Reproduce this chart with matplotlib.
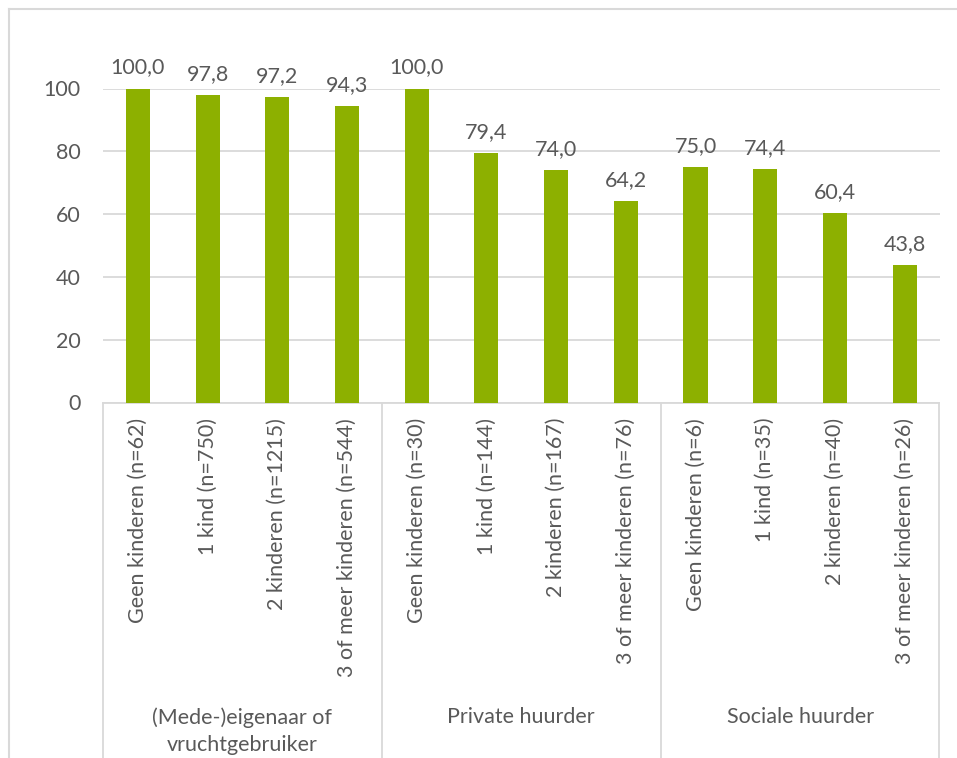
import matplotlib.pyplot as plt
import matplotlib.transforms as mtransforms
from matplotlib.lines import Line2D

plt.rcParams['font.family'] = ['Lato', 'DejaVu Sans']

groups = ["(Mede-)eigenaar of\nvruchtgebruiker", "Private huurder", "Sociale huurder"]
group_sizes = [4, 4, 4]
categories = [
    "Geen kinderen (n=62)", "1 kind (n=750)", "2 kinderen (n=1215)", "3 of meer kinderen (n=544)",
    "Geen kinderen (n=30)", "1 kind (n=144)", "2 kinderen (n=167)", "3 of meer kinderen (n=76)",
    "Geen kinderen (n=6)", "1 kind (n=35)", "2 kinderen (n=40)", "3 of meer kinderen (n=26)",
]
values = [100.0, 97.8, 97.2, 94.3, 100.0, 79.4, 74.0, 64.2, 75.0, 74.4, 60.4, 43.8]
yticks = [0, 20, 40, 60, 80, 100]

TEXT = "#595959"
GRID = "#d9d9d9"
BAR = "#8db000"
FS = 15.5

W, H = 957, 758
fig = plt.figure(figsize=(W / 100, H / 100), dpi=100)
ax = fig.add_axes([103 / W, 1 - 402.5 / H, (939.5 - 103) / W, (402.5 - 88.5) / H])

x = list(range(len(values)))
ax.bar(x, values, width=0.345, color=BAR, zorder=3)
for xi, v in zip(x, values):
    ax.annotate(f"{v:.1f}".replace(".", ","), (xi, v), xytext=(0, 8),
                textcoords="offset points", ha="center", va="bottom",
                fontsize=FS, color=TEXT, annotation_clip=False)

ax.set_xlim(-0.5, len(values) - 0.5)
ax.set_ylim(0, 100)
ax.set_yticks(yticks)
ax.set_yticklabels([str(t) for t in yticks])
ax.set_xticks(x)
ax.set_xticklabels(categories, rotation=90)
ax.tick_params(axis="both", length=0, labelsize=FS, labelcolor=TEXT)
ax.tick_params(axis="y", pad=16)
ax.tick_params(axis="x", pad=11)
ax.grid(axis="y", color=GRID, linewidth=1.3, zorder=0)
for s in ["top", "right", "left"]:
    ax.spines[s].set_visible(False)
ax.spines["bottom"].set_color(GRID)
ax.spines["bottom"].set_linewidth(1.3)

# group separators and group labels
blend = mtransforms.blended_transform_factory(ax.transData, fig.transFigure)
ax_bottom = ax.get_position().y0
bounds = [-0.5]
for n in group_sizes:
    bounds.append(bounds[-1] + n)
for b in bounds:
    fig.add_artist(Line2D([b, b], [0, ax_bottom], transform=blend,
                          color=GRID, linewidth=1.3))
for i, g in enumerate(groups):
    mid = (bounds[i] + bounds[i + 1]) / 2
    fig.text(mid, 1 - 707 / H, g, transform=blend, ha="center", va="top",
             fontsize=FS, color=TEXT, linespacing=1.45)

# outer chart border (cropped on the right and bottom)
fig.add_artist(Line2D([9 / W, 9 / W], [0, 1 - 9 / H], transform=fig.transFigure,
                      color=GRID, linewidth=1.5))
fig.add_artist(Line2D([9 / W, 1], [1 - 9 / H, 1 - 9 / H], transform=fig.transFigure,
                      color=GRID, linewidth=1.5))

fig.savefig("out.png", dpi=100)
